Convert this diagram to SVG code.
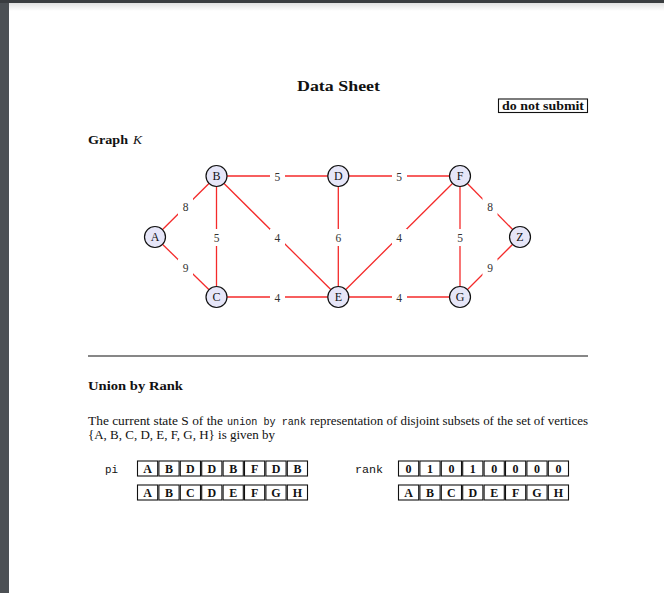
<svg xmlns="http://www.w3.org/2000/svg" width="664" height="593" viewBox="0 0 664 593">
<defs>
<linearGradient id="sh" x1="0" y1="0" x2="0" y2="1">
<stop offset="0" stop-color="#000" stop-opacity="0.12"/>
<stop offset="1" stop-color="#000" stop-opacity="0"/>
</linearGradient>
</defs>
<style>
.serif{font-family:"Liberation Serif","DejaVu Serif",serif;fill:#111}
.b{font-weight:bold}
.mono{font-family:"Liberation Mono","DejaVu Sans Mono",monospace;fill:#111}
.edge{stroke:#f42a2a;stroke-width:1.3;fill:none}
.node circle{fill:#e6e6f8;stroke:#111;stroke-width:1.2}
.nl{font-family:"Liberation Serif","DejaVu Serif",serif;font-size:12px;fill:#111;text-anchor:middle}
.el{font-family:"Liberation Serif","DejaVu Serif",serif;font-size:11.5px;fill:#333;text-anchor:middle}
.lb{fill:#fff}
.cell rect{fill:#fff;stroke:#111;stroke-width:1.1}
.cell text{font-family:"Liberation Serif","DejaVu Serif",serif;font-size:12px;font-weight:bold;fill:#111;text-anchor:middle}
</style>
<rect width="664" height="593" fill="#4c5054"/>
<rect x="0" y="0" width="664" height="3" fill="#3a3d40"/>
<rect x="9" y="3" width="655" height="590" fill="#ffffff"/>
<rect x="9" y="3" width="655" height="8" fill="url(#sh)"/>

<g id="header">
<text class="serif b" x="297" y="91" font-size="15" textLength="83" lengthAdjust="spacingAndGlyphs">Data Sheet</text>
<rect x="498.5" y="99" width="89" height="13.5" fill="#fff" stroke="#111" stroke-width="1.1"/>
<text class="serif b" x="502" y="109.8" font-size="11.5" textLength="82" lengthAdjust="spacingAndGlyphs">do not submit</text>
<text class="serif b" x="88" y="144" font-size="12.5" textLength="40" lengthAdjust="spacingAndGlyphs">Graph</text>
<text class="serif" x="133" y="144" font-size="12.5" font-style="italic" textLength="9" lengthAdjust="spacingAndGlyphs">K</text>
</g>

<g id="connectors">
<line class="edge" x1="155" y1="237" x2="216.5" y2="176"/>
<line class="edge" x1="155" y1="237" x2="216.5" y2="297"/>
<line class="edge" x1="216.5" y1="176" x2="216.5" y2="297"/>
<line class="edge" x1="216.5" y1="176" x2="338.3" y2="176"/>
<line class="edge" x1="216.5" y1="176" x2="338.3" y2="297"/>
<line class="edge" x1="338.3" y1="176" x2="338.3" y2="297"/>
<line class="edge" x1="338.3" y1="176" x2="460" y2="176"/>
<line class="edge" x1="338.3" y1="297" x2="460" y2="176"/>
<line class="edge" x1="216.5" y1="297" x2="338.3" y2="297"/>
<line class="edge" x1="338.3" y1="297" x2="460" y2="297"/>
<line class="edge" x1="460" y1="176" x2="460" y2="297"/>
<line class="edge" x1="460" y1="176" x2="520" y2="237"/>
<line class="edge" x1="460" y1="297" x2="520" y2="237"/>
<g id="edge-labels">
<rect class="lb" x="178" y="198" width="15" height="17"/><text class="el" x="185.5" y="210.5">8</text>
<rect class="lb" x="178" y="259" width="15" height="17"/><text class="el" x="185.5" y="271.5">9</text>
<rect class="lb" x="209" y="229" width="15" height="17"/><text class="el" x="216.5" y="241.5">5</text>
<rect class="lb" x="270" y="168" width="15" height="17"/><text class="el" x="277.4" y="180.5">5</text>
<rect class="lb" x="270" y="229" width="15" height="17"/><text class="el" x="277.4" y="241.5">4</text>
<rect class="lb" x="331" y="229" width="15" height="17"/><text class="el" x="338.3" y="241.5">6</text>
<rect class="lb" x="392" y="168" width="15" height="17"/><text class="el" x="399.2" y="180.5">5</text>
<rect class="lb" x="392" y="229" width="15" height="17"/><text class="el" x="399.2" y="241.5">4</text>
<rect class="lb" x="270" y="289" width="15" height="17"/><text class="el" x="277.4" y="301.5">4</text>
<rect class="lb" x="392" y="289" width="15" height="17"/><text class="el" x="399.2" y="301.5">4</text>
<rect class="lb" x="452.5" y="229" width="15" height="17"/><text class="el" x="460" y="241.5">5</text>
<rect class="lb" x="482.5" y="198" width="15" height="17"/><text class="el" x="490" y="210.5">8</text>
<rect class="lb" x="482.5" y="259" width="15" height="17"/><text class="el" x="490" y="271.5">9</text>
</g>
</g>

<g id="node-A" class="node"><circle cx="155" cy="237" r="10.5"/><text class="nl" x="155" y="241.2">A</text></g>
<g id="node-B" class="node"><circle cx="216.5" cy="176" r="10.5"/><text class="nl" x="216.5" y="180.2">B</text></g>
<g id="node-C" class="node"><circle cx="216.5" cy="297" r="10.5"/><text class="nl" x="216.5" y="301.2">C</text></g>
<g id="node-D" class="node"><circle cx="338.3" cy="176" r="10.5"/><text class="nl" x="338.3" y="180.2">D</text></g>
<g id="node-E" class="node"><circle cx="338.3" cy="297" r="10.5"/><text class="nl" x="338.3" y="301.2">E</text></g>
<g id="node-F" class="node"><circle cx="460" cy="176" r="10.5"/><text class="nl" x="460" y="180.2">F</text></g>
<g id="node-G" class="node"><circle cx="460" cy="297" r="10.5"/><text class="nl" x="460" y="301.2">G</text></g>
<g id="node-Z" class="node"><circle cx="520" cy="237" r="10.5"/><text class="nl" x="520" y="241.2">Z</text></g>

<line x1="88" y1="356" x2="588" y2="356" stroke="#111" stroke-width="1.1"/>

<g id="union-section">
<text class="serif b" x="88" y="390" font-size="13" textLength="95" lengthAdjust="spacingAndGlyphs">Union by Rank</text>
<text class="serif" x="88" y="425" font-size="11.5" textLength="135" lengthAdjust="spacingAndGlyphs">The current state S of the</text>
<text class="mono" x="227" y="425" font-size="10.8" textLength="79" lengthAdjust="spacingAndGlyphs">union by rank</text>
<text class="serif" x="310" y="425" font-size="11.5" textLength="278" lengthAdjust="spacingAndGlyphs">representation of disjoint subsets of the set of vertices</text>
<text class="serif" x="88" y="439" font-size="11.5" textLength="187" lengthAdjust="spacingAndGlyphs">{A, B, C, D, E, F, G, H} is given by</text>
</g>

<g id="pi-table">
<text class="mono" x="105" y="473" font-size="11" textLength="13" lengthAdjust="spacingAndGlyphs">pi</text>
<g class="cell">
<rect x="137.5" y="461" width="20.2" height="15"/><text x="147.6" y="472.8">A</text>
<rect x="158.9" y="461" width="20.2" height="15"/><text x="169" y="472.8">B</text>
<rect x="180.3" y="461" width="20.2" height="15"/><text x="190.4" y="472.8">D</text>
<rect x="201.7" y="461" width="20.2" height="15"/><text x="211.8" y="472.8">D</text>
<rect x="223.1" y="461" width="20.2" height="15"/><text x="233.2" y="472.8">B</text>
<rect x="244.5" y="461" width="20.2" height="15"/><text x="254.6" y="472.8">F</text>
<rect x="265.9" y="461" width="20.2" height="15"/><text x="276" y="472.8">D</text>
<rect x="287.3" y="461" width="20.2" height="15"/><text x="297.4" y="472.8">B</text>
<rect x="137.5" y="485" width="20.2" height="15"/><text x="147.6" y="496.8">A</text>
<rect x="158.9" y="485" width="20.2" height="15"/><text x="169" y="496.8">B</text>
<rect x="180.3" y="485" width="20.2" height="15"/><text x="190.4" y="496.8">C</text>
<rect x="201.7" y="485" width="20.2" height="15"/><text x="211.8" y="496.8">D</text>
<rect x="223.1" y="485" width="20.2" height="15"/><text x="233.2" y="496.8">E</text>
<rect x="244.5" y="485" width="20.2" height="15"/><text x="254.6" y="496.8">F</text>
<rect x="265.9" y="485" width="20.2" height="15"/><text x="276" y="496.8">G</text>
<rect x="287.3" y="485" width="20.2" height="15"/><text x="297.4" y="496.8">H</text>
</g>
</g>

<g id="rank-table">
<text class="mono" x="355" y="473" font-size="11" textLength="28" lengthAdjust="spacingAndGlyphs">rank</text>
<g class="cell">
<rect x="398.5" y="461" width="20.2" height="15"/><text x="408.6" y="472.8">0</text>
<rect x="419.9" y="461" width="20.2" height="15"/><text x="430" y="472.8">1</text>
<rect x="441.3" y="461" width="20.2" height="15"/><text x="451.4" y="472.8">0</text>
<rect x="462.7" y="461" width="20.2" height="15"/><text x="472.8" y="472.8">1</text>
<rect x="484.1" y="461" width="20.2" height="15"/><text x="494.2" y="472.8">0</text>
<rect x="505.5" y="461" width="20.2" height="15"/><text x="515.6" y="472.8">0</text>
<rect x="526.9" y="461" width="20.2" height="15"/><text x="537" y="472.8">0</text>
<rect x="548.3" y="461" width="20.2" height="15"/><text x="558.4" y="472.8">0</text>
<rect x="398.5" y="485" width="20.2" height="15"/><text x="408.6" y="496.8">A</text>
<rect x="419.9" y="485" width="20.2" height="15"/><text x="430" y="496.8">B</text>
<rect x="441.3" y="485" width="20.2" height="15"/><text x="451.4" y="496.8">C</text>
<rect x="462.7" y="485" width="20.2" height="15"/><text x="472.8" y="496.8">D</text>
<rect x="484.1" y="485" width="20.2" height="15"/><text x="494.2" y="496.8">E</text>
<rect x="505.5" y="485" width="20.2" height="15"/><text x="515.6" y="496.8">F</text>
<rect x="526.9" y="485" width="20.2" height="15"/><text x="537" y="496.8">G</text>
<rect x="548.3" y="485" width="20.2" height="15"/><text x="558.4" y="496.8">H</text>
</g>
</g>
</svg>
